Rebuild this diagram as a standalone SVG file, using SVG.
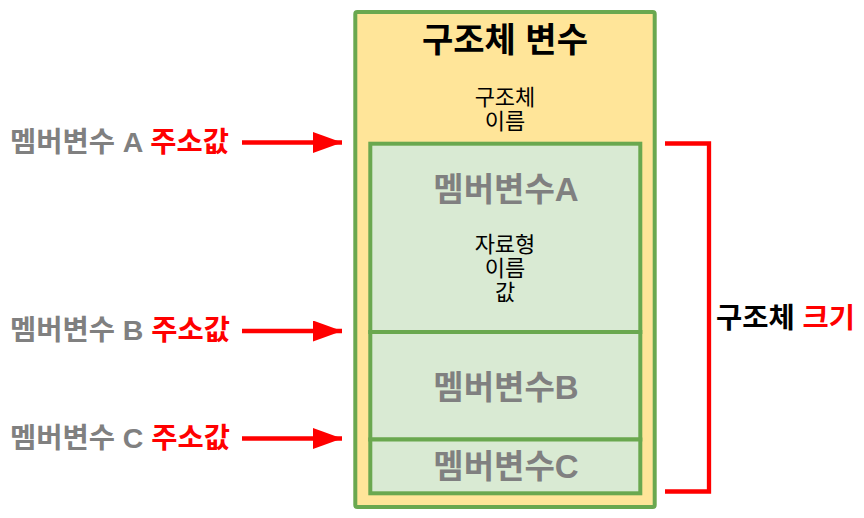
<svg xmlns="http://www.w3.org/2000/svg" width="864" height="518" viewBox="0 0 864 518">
<style>
text{font-family:"Liberation Sans","Noto Sans CJK KR",sans-serif;text-anchor:middle}
.b{font-weight:bold}
.gray{fill:#808080}
.red{fill:#ff0000}
.blk{fill:#000000}
.small{font-size:22px}
.lbl{font-size:28.5px;font-weight:bold;text-anchor:start}
.mem{font-size:33px;font-weight:bold;fill:#808080}
.box{stroke:#6aa84f;stroke-width:4}
.conn{stroke:#ff0000;stroke-width:4.3;fill:none}
</style>
<defs>
<marker id="ah" markerUnits="userSpaceOnUse" markerWidth="30" markerHeight="22" refX="29" refY="10.5" orient="auto">
<polygon points="0,0 29,10.5 0,21" fill="#ff0000"/>
</marker>
</defs>
<rect width="864" height="518" fill="#ffffff"/>
<g id="struct">
<rect class="box" x="355.3" y="12" width="299.4" height="495" rx="2" fill="#ffe599"/>
<text class="b blk" x="505" y="52" font-size="34">구조체 변수</text>
<text class="small blk" x="505" y="105">구조체</text>
<text class="small blk" x="505" y="129">이름</text>
</g>
<g id="memberA">
<rect class="box" x="370.3" y="143.7" width="270" height="188.3" fill="#d9ead3"/>
<text class="mem" x="506" y="201">멤버변수A</text>
<text class="small blk" x="505" y="252">자료형</text>
<text class="small blk" x="505" y="276">이름</text>
<text class="small blk" x="505" y="300">값</text>
</g>
<g id="memberB">
<rect class="box" x="370.3" y="332" width="270" height="107.5" fill="#d9ead3"/>
<text class="mem" x="506" y="399">멤버변수B</text>
</g>
<g id="memberC">
<rect class="box" x="370.3" y="439.5" width="270" height="53.8" fill="#d9ead3"/>
<text class="mem" x="506" y="478">멤버변수C</text>
</g>
<g id="labelA"><text class="lbl" x="10" y="152"><tspan class="gray">멤버변수 A </tspan><tspan class="red">주소값</tspan></text></g>
<g id="labelB"><text class="lbl" x="10" y="340"><tspan class="gray">멤버변수 B </tspan><tspan class="red">주소값</tspan></text></g>
<g id="labelC"><text class="lbl" x="10" y="447.5"><tspan class="gray">멤버변수 C </tspan><tspan class="red">주소값</tspan></text></g>
<g id="sizeLabel"><text class="lbl" x="716" y="328"><tspan class="blk">구조체 </tspan><tspan class="red">크기</tspan></text></g>
<g id="connectors">
<line class="conn" x1="242" y1="142.5" x2="342" y2="142.5" marker-end="url(#ah)"/>
<line class="conn" x1="242" y1="331" x2="342" y2="331" marker-end="url(#ah)"/>
<line class="conn" x1="242" y1="438.5" x2="342" y2="438.5" marker-end="url(#ah)"/>
<path class="conn" d="M665,143.5 H709 V491.5 H665"/>
</g>
</svg>
